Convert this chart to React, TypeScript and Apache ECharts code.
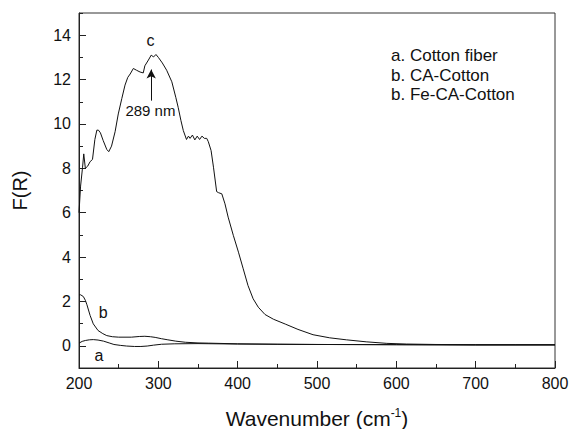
import React, { useEffect, useRef } from "react";
import * as echarts from "echarts";

const FONT = '"Liberation Sans", Arial, Helvetica, sans-serif';

// Curve a: Cotton fiber  [wavenumber, F(R)]
const cottonFiber: [number, number][] = [
  [200, 0.12], [204, 0.2], [208, 0.24], [213, 0.27], [218, 0.28], [224, 0.26],
  [231, 0.21], [238, 0.13], [244, 0.06], [252, 0.02], [260, -0.01], [270, -0.03],
  [278, -0.03], [286, -0.01], [294, 0.03], [304, 0.07], [320, 0.09], [350, 0.1],
  [400, 0.08], [500, 0.06], [600, 0.05], [700, 0.04], [800, 0.04],
];

// Curve b: CA-Cotton
const caCotton: [number, number][] = [
  [200, 2.3], [202, 2.3], [205.5, 2.22], [208, 2.05], [210, 1.85], [214, 1.37],
  [218, 0.99], [224, 0.69], [230, 0.55], [235, 0.46], [242, 0.41], [250, 0.39],
  [266, 0.39], [276, 0.42], [283, 0.43], [290, 0.41], [296, 0.38], [304, 0.32],
  [312, 0.27], [322, 0.21], [334, 0.16], [350, 0.13], [363, 0.12], [400, 0.09],
  [450, 0.07], [500, 0.06], [600, 0.05], [700, 0.04], [800, 0.04],
];

// Curve c: Fe-CA-Cotton
const feCaCotton: [number, number][] = [
  [200, 6.0], [202, 7.2], [204.5, 8.05], [206, 8.65], [208, 8.0], [211, 8.1],
  [214, 8.3], [217, 8.4], [220, 9.3], [222.5, 9.72], [224.5, 9.72], [227, 9.6],
  [230.5, 9.25], [235, 8.85], [237.5, 8.75], [241, 9.0], [245.5, 9.65], [249.5, 10.45],
  [254, 11.15], [258, 11.75], [261.5, 12.1], [264.5, 12.25], [268.5, 12.5], [272.5, 12.42],
  [277, 12.34], [281, 12.3], [283, 12.62], [287.5, 12.88], [291, 13.1], [294, 13.02],
  [297, 13.13], [300, 13.0], [305, 12.75], [310.5, 12.42], [317, 11.9], [322, 11.2],
  [325, 10.75], [328.5, 10.15], [331.5, 9.7], [335.5, 9.3], [338, 9.45], [340, 9.35],
  [343, 9.5], [346, 9.28], [349, 9.45], [352, 9.3], [355, 9.45], [358, 9.35],
  [361, 9.35], [363, 9.2], [366.5, 8.8], [369.5, 8.05], [373.5, 6.95], [376, 6.9],
  [380, 6.85], [384, 6.4], [388, 5.8], [394.5, 4.98], [401, 4.22], [407, 3.47],
  [413, 2.72], [419.5, 2.12], [426, 1.74], [434.5, 1.41], [445, 1.2], [460, 0.98],
  [476, 0.74], [495, 0.5], [516, 0.36], [537, 0.27], [562, 0.18], [588, 0.11],
  [613, 0.08], [650, 0.06], [700, 0.05], [750, 0.05], [800, 0.05],
];

const yMajorTicks = [0, 2, 4, 6, 8, 10, 12, 14];
const legendLines = ["a. Cotton fiber", "b. CA-Cotton", "b. Fe-CA-Cotton"];

// Curve labels anchored in data coordinates
const curveLabels: { name: string; coord: [number, number] }[] = [
  { name: "a", coord: [225.2, -0.44] },
  { name: "b", coord: [230.6, 1.52] },
  { name: "c", coord: [290, 13.77] },
  { name: "289 nm", coord: [290, 10.6] },
];
const arrowFrom: [number, number] = [291, 11.05];
const arrowTo: [number, number] = [291, 12.45];

export default function App() {
  const ref = useRef<HTMLDivElement>(null);

  useEffect(() => {
    if (!ref.current) return;
    const chart = echarts.init(ref.current, null, { renderer: "svg" });
    const lineStyle = { color: "#111", width: 1 };
    const baseSeries = (name: string, data: [number, number][]) => ({
      name,
      type: "line",
      data,
      showSymbol: false,
      symbol: "none",
      lineStyle,
      silent: true,
      z: 3,
    });

    chart.setOption({
      animation: false,
      backgroundColor: "#fff",
      textStyle: { fontFamily: FONT },
      grid: {
        left: 79,
        right: 14,
        top: 13,
        bottom: 61,
        containLabel: false,
        outerBoundsMode: "none",
        show: true,
        borderColor: "#333",
        borderWidth: 1,
        backgroundColor: "transparent",
      },
      xAxis: {
        type: "value",
        min: 200,
        max: 800,
        interval: 100,
        axisLine: { show: true, onZero: false, lineStyle: { color: "#222", width: 1 } },
        axisTick: { show: true, inside: true, length: 7, lineStyle: { color: "#222" } },
        minorTick: { show: true, splitNumber: 2, length: 4, lineStyle: { color: "#222" } },
        axisLabel: { fontSize: 16, color: "#111", margin: 7, fontFamily: FONT },
        splitLine: { show: false },
        name: "Wavenumber (cm{sup|-1})",
        nameLocation: "middle",
        nameGap: 39,
        nameTextStyle: {
          fontSize: 21,
          color: "#111",
          fontFamily: FONT,
          rich: {
            sup: { fontSize: 12, verticalAlign: "top", padding: [0, 0, 10, 0], color: "#111", fontFamily: FONT },
          },
        },
      },
      yAxis: [
        {
          type: "value",
          min: -1,
          max: 15,
          position: "left",
          axisLine: { show: true, onZero: false, lineStyle: { color: "#222", width: 1 } },
          axisTick: {
            show: true,
            inside: true,
            length: 7,
            customValues: yMajorTicks,
            lineStyle: { color: "#222" },
          },
          axisLabel: {
            customValues: yMajorTicks,
            fontSize: 16,
            color: "#111",
            margin: 8,
            fontFamily: FONT,
          },
          splitLine: { show: false },
          name: "F(R)",
          nameLocation: "middle",
          nameGap: 49,
          nameTextStyle: { fontSize: 20, color: "#111", fontFamily: FONT },
        },
        {
          type: "value",
          min: -1,
          max: 15,
          interval: 1,
          position: "left",
          axisLine: { show: false },
          axisTick: { show: true, inside: true, length: 4, lineStyle: { color: "#222" } },
          axisLabel: { show: false },
          splitLine: { show: false },
        },
      ],
      series: [
        baseSeries("Cotton fiber", cottonFiber),
        baseSeries("CA-Cotton", caCotton),
        {
          ...baseSeries("Fe-CA-Cotton", feCaCotton),
          markPoint: {
            silent: true,
            symbol: "circle",
            symbolSize: 1,
            itemStyle: { color: "rgba(0,0,0,0)" },
            label: {
              show: true,
              position: "inside",
              color: "#111",
              fontSize: 16,
              fontFamily: FONT,
              formatter: (p: any) => p.name,
            },
            data: curveLabels.map((l) => ({
              name: l.name,
              coord: l.coord,
              label: l.name === "289 nm" ? { fontSize: 15 } : undefined,
            })),
          },
          markLine: {
            silent: true,
            symbol: ["none", "arrow"],
            symbolSize: [7, 9],
            label: { show: false },
            lineStyle: { color: "#111", width: 1, type: "solid" },
            data: [[{ coord: arrowFrom }, { coord: arrowTo }]],
          },
        },
      ],
      graphic: legendLines.map((t, i) => ({
        type: "text",
        left: 391,
        top: 47 + i * 19.5,
        style: { text: t, fontSize: 17, fill: "#111", fontFamily: FONT },
        silent: true,
      })),
    });

    return () => chart.dispose();
  }, []);

  return (
    <div
      ref={ref}
      style={{ position: "fixed", left: 0, top: 0, width: 569, height: 429, background: "#fff" }}
    />
  );
}
